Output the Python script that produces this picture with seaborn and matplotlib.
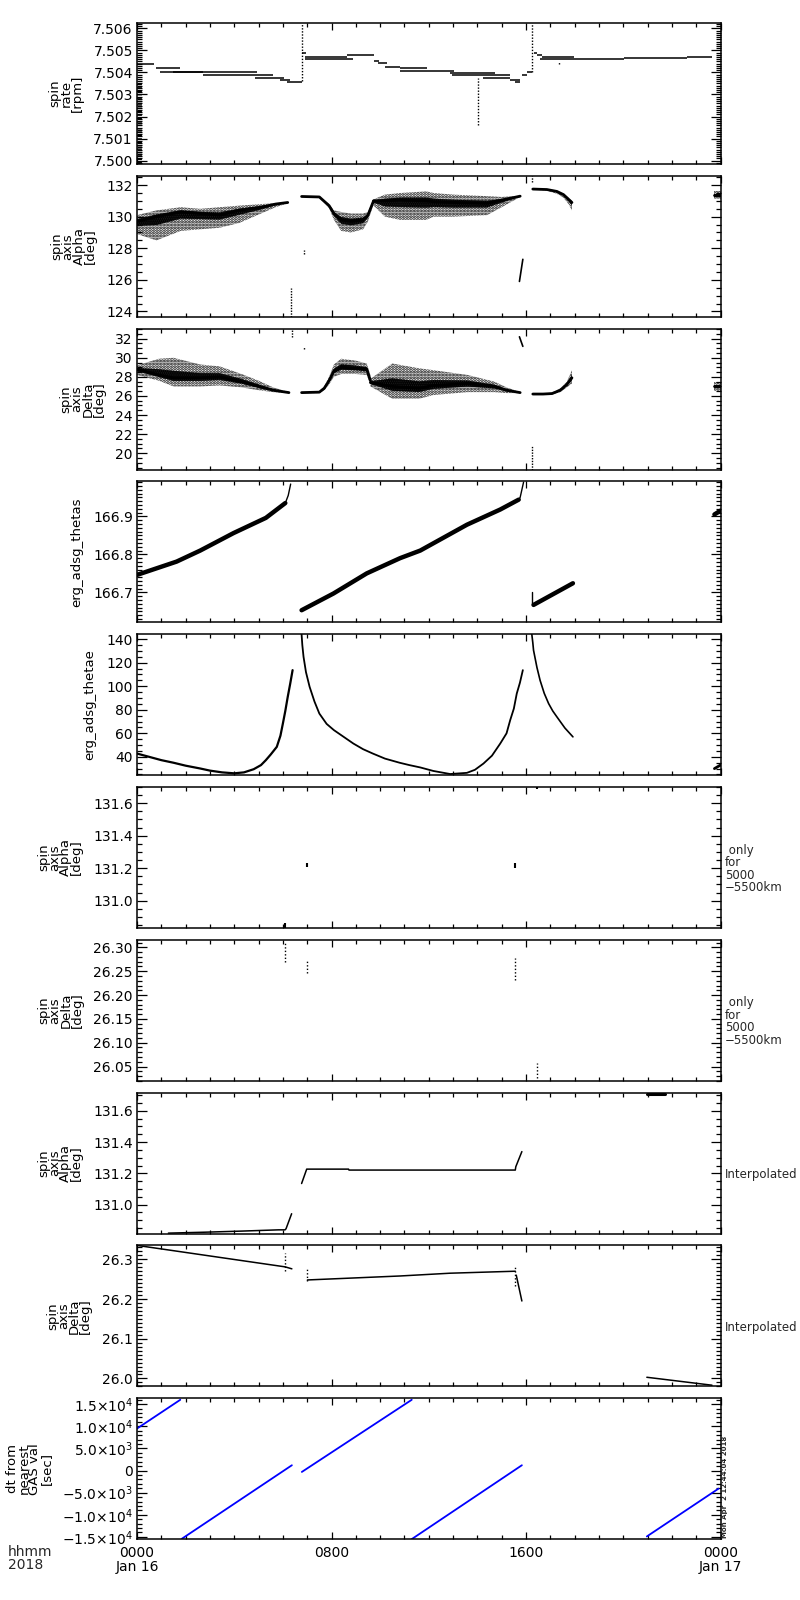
import numpy as np
import matplotlib
matplotlib.use('Agg')
import matplotlib.pyplot as plt
from matplotlib.ticker import MultipleLocator, FormatStrFormatter, FuncFormatter
import seaborn as sns

# ---------------- data (time in hours from 2018-01-16 00:00) ----------------

# panel 1: spin rate [rpm], horizontal runs (start, end, value)
rate_t0 = [0.0, 0.8, 0.94, 1.5, 2.73, 4.86, 5.9, 6.16, 6.80, 6.9, 6.9, 8.63, 9.73, 9.9, 10.2,
           10.82, 10.82, 12.88, 12.95, 14.25, 15.35, 15.55, 15.83, 16.05, 16.31, 16.45, 16.66,
           16.59, 20.02, 22.62]
rate_t1 = [0.7, 1.77, 2.73, 4.93, 5.61, 6.03, 6.29, 6.77, 6.95, 8.63, 8.9, 9.73, 9.95, 10.3, 10.82,
           11.92, 13.02, 14.73, 15.35, 15.35, 15.76, 15.76, 16.05, 16.24, 16.45, 16.66, 17.96,
           20.02, 22.62, 23.65]
rate_val = [7.50438, 7.50419, 7.50404, 7.50400, 7.50387, 7.50373, 7.50366, 7.50357, 7.50487,
            7.50469, 7.50460, 7.50480, 7.50450, 7.50441, 7.50426, 7.50419, 7.50405, 7.50396,
            7.50387, 7.50373, 7.50366, 7.50357, 7.50390, 7.50400, 7.50487, 7.50480, 7.50469,
            7.50460, 7.50464, 7.50469]
# vertical dotted spikes (time, low, high)
rate_spike_t = [6.77, 14.01, 16.24, 17.34]
rate_spike_lo = [7.50360, 7.50162, 7.50400, 7.50438]
rate_spike_hi = [7.50624, 7.50373, 7.50624, 7.50446]
rate_start_t = 0.1
rate_start_lo = 7.49990
rate_start_hi = 7.50350

# panel 2: spin axis Alpha [deg] (scatter cloud: centre, lower, upper envelopes)
alpha_a_t = [0.0, 0.8, 1.8, 2.6, 3.4, 4.2, 5.1, 5.7, 6.2]
alpha_a_c = [129.7, 130.0, 130.3, 130.2, 130.1, 130.4, 130.6, 130.8, 130.9]
alpha_a_lo = [128.9, 128.5, 129.1, 129.2, 129.3, 129.6, 130.2, 130.6, 130.85]
alpha_a_hi = [130.1, 130.4, 130.6, 130.5, 130.6, 130.7, 130.8, 130.85, 130.92]
alpha_b_t = [6.77, 7.5, 7.9, 8.1, 8.4, 8.8, 9.3, 9.5, 9.73]
alpha_b_c = [131.28, 131.25, 130.7, 130.2, 129.8, 129.7, 129.8, 130.1, 131.0]
alpha_b_lo = [131.25, 131.2, 130.55, 129.8, 129.1, 129.0, 129.2, 129.7, 130.8]
alpha_b_hi = [131.3, 131.28, 130.8, 130.4, 130.3, 130.2, 130.2, 130.3, 131.1]
alpha_c_t = [9.73, 10.2, 10.82, 11.9, 12.2, 13.0, 14.4, 15.0, 15.76]
alpha_c_c = [131.0, 131.0, 131.05, 131.0, 130.95, 130.9, 130.85, 131.05, 131.3]
alpha_c_lo = [130.7, 130.0, 129.8, 129.8, 130.0, 130.0, 130.1, 130.6, 131.25]
alpha_c_hi = [131.1, 131.4, 131.5, 131.6, 131.5, 131.4, 131.3, 131.25, 131.32]
alpha_d_t = [16.28, 16.86, 17.27, 17.54, 17.75, 17.89]
alpha_d_c = [131.75, 131.72, 131.6, 131.4, 131.1, 130.9]
alpha_d_lo = [131.72, 131.65, 131.45, 131.2, 130.8, 130.4]
alpha_d_hi = [131.78, 131.76, 131.65, 131.45, 131.2, 131.0]
alpha_e_t = [23.72, 24.0]
alpha_e_c = [131.35, 131.35]
alpha_e_lo = [131.1, 131.1]
alpha_e_hi = [131.6, 131.6]
alpha_spike_t = [6.33, 6.85, 16.24]
alpha_spike_lo = [123.66, 127.65, 132.2]
alpha_spike_hi = [125.5, 127.9, 132.6]
alpha_jump_t = [15.73, 15.87]
alpha_jump_v = [125.9, 127.3]

# panel 3: spin axis Delta [deg]
delta_a_t = [0.0, 0.9, 1.5, 2.6, 3.4, 4.3, 5.0, 5.6, 6.25]
delta_a_c = [28.8, 28.2, 27.9, 27.9, 28.0, 27.5, 27.0, 26.6, 26.35]
delta_a_lo = [28.2, 27.6, 27.0, 27.0, 27.1, 26.9, 26.6, 26.4, 26.3]
delta_a_hi = [29.2, 29.9, 30.0, 29.3, 29.1, 28.3, 27.6, 26.9, 26.4]
delta_b_t = [6.77, 7.5, 7.7, 7.9, 8.1, 8.4, 9.0, 9.45, 9.6]
delta_b_c = [26.35, 26.4, 26.8, 27.6, 28.6, 29.0, 28.9, 28.8, 27.6]
delta_b_lo = [26.3, 26.3, 26.6, 27.2, 28.0, 28.3, 28.3, 28.2, 27.2]
delta_b_hi = [26.4, 26.5, 27.0, 28.0, 29.3, 29.9, 29.7, 29.4, 28.2]
delta_c_t = [9.6, 10.5, 11.6, 12.2, 13.6, 14.7, 15.2, 15.76]
delta_c_c = [27.4, 27.0, 26.8, 27.1, 27.3, 27.0, 26.6, 26.35]
delta_c_lo = [27.0, 25.7, 25.7, 26.1, 26.4, 26.4, 26.3, 26.3]
delta_c_hi = [27.8, 29.4, 28.9, 28.7, 28.2, 27.5, 26.9, 26.4]
delta_d_t = [16.28, 16.7, 17.07, 17.41, 17.68, 17.89]
delta_d_c = [26.2, 26.2, 26.25, 26.6, 27.2, 27.9]
delta_d_lo = [26.15, 26.15, 26.15, 26.4, 26.9, 27.3]
delta_d_hi = [26.25, 26.25, 26.35, 26.8, 27.5, 28.7]
delta_e_t = [23.72, 24.0]
delta_e_c = [27.0, 27.0]
delta_e_lo = [26.5, 26.5]
delta_e_hi = [27.5, 27.5]
delta_spike_t = [6.37, 6.85, 16.24]
delta_spike_lo = [32.2, 30.9, 18.28]
delta_spike_hi = [33.06, 31.1, 20.8]
delta_jump_t = [15.73, 15.87]
delta_jump_v = [32.2, 31.2]

# panel 4: erg_adsg_thetas
thetas_a_t = [0.0, 1.63, 2.6, 3.97, 5.3, 6.1]
thetas_a_v = [166.746, 166.781, 166.81, 166.856, 166.896, 166.935]
thetas_a2_t = [6.1, 6.22, 6.32]
thetas_a2_v = [166.935, 166.955, 166.985]
thetas_b_t = [6.77, 8.08, 9.45, 10.82, 11.65, 13.57, 14.94, 15.7]
thetas_b_v = [166.653, 166.697, 166.75, 166.79, 166.81, 166.878, 166.918, 166.944]
thetas_b2_t = [15.7, 15.76, 15.9]
thetas_b2_v = [166.944, 166.95, 166.99]
thetas_c_t = [16.31, 17.93]
thetas_c_v = [166.667, 166.724]
thetas_c2_t = [16.24, 16.24]
thetas_c2_v = [166.70, 166.67]
thetas_e_t = [23.75, 24.0]
thetas_e_v = [166.905, 166.915]

# panel 5: erg_adsg_thetae
thetae_a_t = [0.0, 0.5, 1.0, 1.5, 2.0, 2.6, 3.0, 3.5, 4.0, 4.4, 4.8, 5.1, 5.3, 5.5, 5.75,
              5.9, 6.0, 6.1, 6.2, 6.3, 6.4]
thetae_a_v = [42.8, 40.0, 37.2, 35.0, 32.5, 30.1, 28.3, 26.8, 26.0, 26.8, 29.5, 33.0, 37.2,
              42.0, 48.5, 58.0, 68.3, 79.0, 91.0, 102.0, 113.7]
thetae_b_t = [6.77, 6.8, 6.85, 6.95, 7.1, 7.3, 7.5, 7.8, 8.1, 8.5, 8.9, 9.3, 9.7, 10.2, 10.8,
              11.2, 11.65, 12.19, 12.88, 13.57, 13.9, 14.25, 14.6, 14.94, 15.2, 15.35, 15.5,
              15.62, 15.75, 15.87]
thetae_b_v = [144.0, 135.0, 125.0, 112.0, 99.5, 87.0, 76.8, 68.0, 62.7, 57.0, 51.3, 46.5,
              42.8, 38.5, 35.0, 33.0, 31.0, 28.0, 25.4, 26.4, 29.0, 34.3, 41.0, 51.3, 60.0,
              71.2, 81.0, 93.8, 103.0, 113.7]
thetae_c_t = [16.24, 16.28, 16.31, 16.45, 16.58, 16.75, 16.93, 17.1, 17.27, 17.6, 17.93]
thetae_c_v = [144.0, 137.0, 130.6, 116.0, 105.0, 94.0, 85.3, 79.0, 74.0, 64.5, 57.0]
thetae_e_t = [23.75, 24.0]
thetae_e_v = [30.0, 33.0]

# panel 6/7: only for 5000-5500 km (short vertical point groups)
alpha_r_t = [6.09, 6.98, 15.56, 16.44]
alpha_r_lo = [130.83, 131.21, 131.20, 131.69]
alpha_r_hi = [130.86, 131.23, 131.23, 131.70]
delta_r_t = [6.09, 6.98, 15.56, 16.44]
delta_r_lo = [26.270, 26.246, 26.232, 26.026]
delta_r_hi = [26.309, 26.274, 26.278, 26.057]

# panel 8: interpolated Alpha
alpha_i_a_t = [1.29, 2.80, 4.31, 5.82, 6.09, 6.13, 6.36]
alpha_i_a_v = [130.818, 130.824, 130.831, 130.839, 130.839, 130.846, 130.942]
alpha_i_b_t = [6.77, 6.98, 8.70, 8.72, 15.56, 15.58, 15.83]
alpha_i_b_v = [131.135, 131.227, 131.227, 131.221, 131.221, 131.242, 131.339]
alpha_i_c_t = [20.97, 21.73]
alpha_i_c_v = [131.71, 131.71]

# panel 9: interpolated Delta
delta_i_a_t = [0.0, 6.09, 6.37]
delta_i_a_v = [26.335, 26.281, 26.276]
delta_i_b_t = [7.01, 10.82, 12.88, 15.56]
delta_i_b_v = [26.248, 26.258, 26.265, 26.270]
delta_i_b2_t = [15.6, 15.83]
delta_i_b2_v = [26.26, 26.195]
delta_i_c_t = [20.97, 23.65]
delta_i_c_v = [26.003, 25.983]
delta_i_dot_t = [6.09, 6.98, 15.56]
delta_i_dot_lo = [26.270, 26.245, 26.232]
delta_i_dot_hi = [26.317, 26.275, 26.280]

# panel 10: dt from nearest GAS val [sec]
dt_t0 = [0.0, 1.85, 6.78, 11.30, 20.97]
dt_t1 = [1.78, 6.37, 11.30, 15.83, 23.92]
dt_v0 = [9495, -15400, -310, -15500, -14900]
dt_v1 = [16000, 1200, 16000, 1200, -4080]

# axis settings per panel
ylims = [(7.49985, 7.50624), (123.66, 132.59), (18.28, 33.06), (166.621, 166.992),
         (24.4, 144.25), (130.832, 131.70), (26.02, 26.316), (130.815, 131.716),
         (25.98, 26.335), (-15520, 16360)]
ymajor = [0.001, 2, 2, 0.1, 20, 0.2, 0.05, 0.2, 0.1, 5000]
yminor = [0.0001, 0.5, 0.5, 0.01, 5, 0.05, 0.01, 0.05, 0.01, 1000]
yfmt = ['%.3f', '%d', '%d', '%.1f', '%d', '%.1f', '%.2f', '%.1f', '%.1f', None]
ylabels = ['spin\nrate\n[rpm]', 'spin\naxis\nAlpha\n[deg]', 'spin\naxis\nDelta\n[deg]',
           'erg_adsg_thetas', 'erg_adsg_thetae', 'spin\naxis\nAlpha\n[deg]',
           'spin\naxis\nDelta\n[deg]', 'spin\naxis\nAlpha\n[deg]', 'spin\naxis\nDelta\n[deg]',
           'dt from\nnearest\nGAS val\n[sec]']
right_labels = [None, None, None, None, None, ' only\nfor\n5000\n\u22125500km',
                ' only\nfor\n5000\n\u22125500km', 'Interpolated', 'Interpolated', None]
xtick_pos = [0, 8, 16, 24]
xtick_lab = ['0000\nJan 16', '0800', '1600', '0000\nJan 17']

# ---------------- drawing ----------------
sns.set_theme(style='ticks')
plt.rcParams['font.family'] = ['DejaVu Sans']
plt.rcParams['mathtext.fontset'] = 'dejavusans'
plt.rcParams['mathtext.default'] = 'regular'
plt.rcParams['hatch.linewidth'] = 1.4
plt.rcParams['axes.linewidth'] = 1.1

fig = plt.figure(figsize=(8, 16), dpi=100)
W, H = 800.0, 1600.0
left, right = 137.0, 720.5


def line(ax, t, v, lw=1.0, color='black'):
    sns.lineplot(x=t, y=v, ax=ax, color=color, lw=lw, estimator=None, sort=False)


def cloud(ax, t, c, lo, hi):
    # sparse speckle for the outer envelope, dense speckle for the core
    ax.fill_between(t, lo, hi, facecolor='none', edgecolor='black', hatch='......', linewidth=0)
    c_ = np.asarray(c)
    in_lo = c_ - 0.35 * (c_ - np.asarray(lo))
    in_hi = c_ + 0.35 * (np.asarray(hi) - c_)
    ax.fill_between(t, in_lo, in_hi, facecolor='#1a1a1a', edgecolor='black',
                    hatch='........', linewidth=0)
    line(ax, t, c, lw=2.0)


def sci_fmt(v, pos):
    if abs(v) < 1e-9:
        return '0'
    e = int(np.floor(np.log10(abs(v))))
    m = v / 10 ** e
    return r'$%.1f{\times}10^{%d}$' % (m, e)


axes = []
for i in range(10):
    top = 23 + 152.8 * i
    ax = fig.add_axes([left / W, 1 - (top + 141) / H, (right - left) / W, 141 / H])
    axes.append(ax)
    ax.set_xlim(0, 24)
    ax.set_ylim(*ylims[i])
    ax.xaxis.set_major_locator(MultipleLocator(8))
    ax.xaxis.set_minor_locator(MultipleLocator(1))
    ax.yaxis.set_major_locator(MultipleLocator(ymajor[i]))
    ax.yaxis.set_minor_locator(MultipleLocator(yminor[i]))
    if yfmt[i]:
        ax.yaxis.set_major_formatter(FormatStrFormatter(yfmt[i]))
    else:
        ax.yaxis.set_major_formatter(FuncFormatter(sci_fmt))
    ax.tick_params(axis='both', which='both', direction='in', top=True, right=True,
                   colors='black', labelsize=10)
    ax.tick_params(axis='y', which='major', length=7.5, width=0.9, pad=3)
    ax.tick_params(axis='y', which='minor', length=3.8, width=0.9)
    ax.tick_params(axis='x', which='major', length=5, width=0.9, pad=5)
    ax.tick_params(axis='x', which='minor', length=3, width=0.9)
    for sp in ax.spines.values():
        sp.set_color('black')
        sp.set_linewidth(1.1)
    ax.set_facecolor('white')
    ax.set_ylabel(ylabels[i], fontsize=9.5, linespacing=0.8, labelpad=7, color='black')
    if right_labels[i]:
        ax.text(1.008, 0.42, right_labels[i], transform=ax.transAxes, ha='left', va='center',
                fontsize=8.5, linespacing=0.95, multialignment='left')
    if i < 9:
        ax.set_xticklabels([])
    else:
        ax.set_xticks(xtick_pos)
        ax.set_xticklabels(xtick_lab, linespacing=0.95)
        for lab in ax.get_xticklabels():
            lab.set_verticalalignment('top')
    ax.set_xlabel('')

a1, a2, a3, a4, a5, a6, a7, a8, a9, a10 = axes

# panel 1
a1.hlines(rate_val, rate_t0, rate_t1, colors='black', lw=1.1)
a1.vlines(rate_spike_t, rate_spike_lo, rate_spike_hi, colors='black', lw=1.0,
          linestyles=(0, (1, 1.2)))
a1.vlines([rate_start_t], [rate_start_lo], [rate_start_hi], colors='black', lw=3.5,
          linestyles=(0, (0.3, 0.4)))

# panel 2
for t, c, lo, hi in [(alpha_a_t, alpha_a_c, alpha_a_lo, alpha_a_hi),
                     (alpha_b_t, alpha_b_c, alpha_b_lo, alpha_b_hi),
                     (alpha_c_t, alpha_c_c, alpha_c_lo, alpha_c_hi),
                     (alpha_d_t, alpha_d_c, alpha_d_lo, alpha_d_hi),
                     (alpha_e_t, alpha_e_c, alpha_e_lo, alpha_e_hi)]:
    cloud(a2, t, c, lo, hi)
a2.vlines(alpha_spike_t, alpha_spike_lo, alpha_spike_hi, colors='black', lw=1.0,
          linestyles=(0, (1, 1)))
line(a2, alpha_jump_t, alpha_jump_v, lw=1.2)

# panel 3
for t, c, lo, hi in [(delta_a_t, delta_a_c, delta_a_lo, delta_a_hi),
                     (delta_b_t, delta_b_c, delta_b_lo, delta_b_hi),
                     (delta_c_t, delta_c_c, delta_c_lo, delta_c_hi),
                     (delta_d_t, delta_d_c, delta_d_lo, delta_d_hi),
                     (delta_e_t, delta_e_c, delta_e_lo, delta_e_hi)]:
    cloud(a3, t, c, lo, hi)
a3.vlines(delta_spike_t, delta_spike_lo, delta_spike_hi, colors='black', lw=1.0,
          linestyles=(0, (1, 1)))
line(a3, delta_jump_t, delta_jump_v, lw=1.2)

# panel 4
line(a4, thetas_a_t, thetas_a_v, lw=3.2)
line(a4, thetas_a2_t, thetas_a2_v, lw=1.0)
line(a4, thetas_b_t, thetas_b_v, lw=3.2)
line(a4, thetas_b2_t, thetas_b2_v, lw=1.0)
line(a4, thetas_c_t, thetas_c_v, lw=3.2)
line(a4, thetas_c2_t, thetas_c2_v, lw=1.0)
line(a4, thetas_e_t, thetas_e_v, lw=3.2)

# panel 5
line(a5, thetae_a_t, thetae_a_v, lw=1.6)
line(a5, thetae_b_t, thetae_b_v, lw=1.3)
line(a5, thetae_c_t, thetae_c_v, lw=1.2)
line(a5, thetae_e_t, thetae_e_v, lw=2.0)

# panels 6, 7
a6.vlines(alpha_r_t, alpha_r_lo, alpha_r_hi, colors='black', lw=1.5)
a7.vlines(delta_r_t, delta_r_lo, delta_r_hi, colors='black', lw=1.0, linestyles=(0, (1, 1.5)))

# panel 8
line(a8, alpha_i_a_t, alpha_i_a_v, lw=1.1)
line(a8, alpha_i_b_t, alpha_i_b_v, lw=1.1)
line(a8, alpha_i_c_t, alpha_i_c_v, lw=2.2)

# panel 9
line(a9, delta_i_a_t, delta_i_a_v, lw=1.1)
line(a9, delta_i_b_t, delta_i_b_v, lw=1.1)
line(a9, delta_i_b2_t, delta_i_b2_v, lw=1.1)
line(a9, delta_i_c_t, delta_i_c_v, lw=1.1)
a9.vlines(delta_i_dot_t, delta_i_dot_lo, delta_i_dot_hi, colors='black', lw=1.0,
          linestyles=(0, (1, 1.5)))

# panel 10
for t0, t1, v0, v1 in zip(dt_t0, dt_t1, dt_v0, dt_v1):
    line(a10, [t0, t1], [v0, v1], lw=1.3, color='#0000ff')

for ax in axes:
    ax.set_xlim(0, 24)
    ax.set_xlabel('')

fig.text(8 / W, 1 - 1545 / H, 'hhmm\n2018', ha='left', va='top', fontsize=10, linespacing=0.95)
fig.text(722.5 / W, 1 - 1538 / H, 'Mon Apr  2 12:44:04 2018', rotation=90, ha='left',
         va='bottom', fontsize=5, fontweight='bold')

fig.savefig('out.png', dpi=100, facecolor='white')
